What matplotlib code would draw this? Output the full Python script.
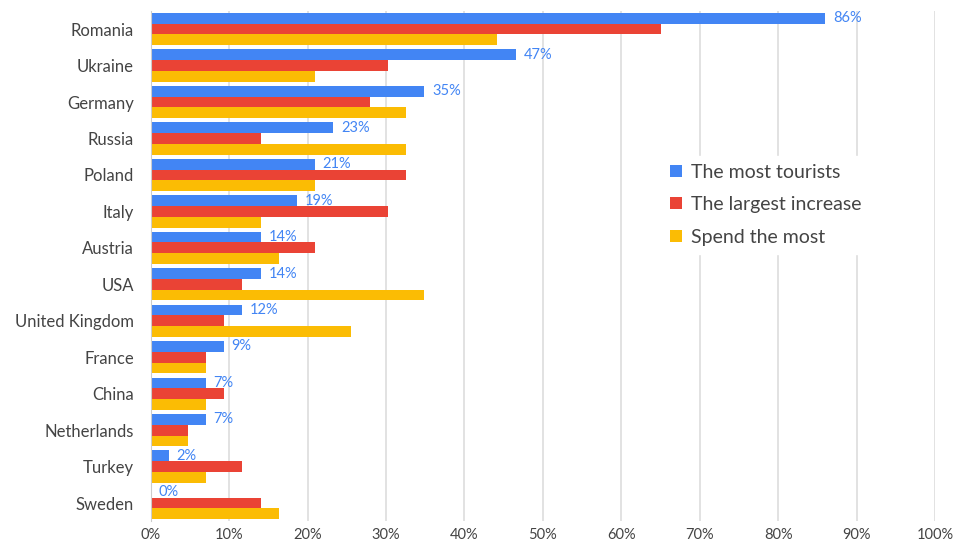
import matplotlib.pyplot as plt
import numpy as np

# dados (percentuais)
paises = ['Romania', 'Ukraine', 'Germany', 'Russia', 'Poland', 'Italy', 'Austria',
          'USA', 'United Kingdom', 'France', 'China', 'Netherlands', 'Turkey', 'Sweden']
most_tourists = [86.0, 46.6, 34.9, 23.3, 20.9, 18.6, 14.0, 14.0, 11.6, 9.3, 7.0, 7.0, 2.3, 0.0]
largest_increase = [65.1, 30.2, 27.9, 14.0, 32.6, 30.2, 20.9, 11.6, 9.3, 7.0, 9.3, 4.7, 11.6, 14.0]
spend_most = [44.2, 20.9, 32.6, 32.6, 20.9, 14.0, 16.3, 34.9, 25.6, 7.0, 7.0, 4.7, 7.0, 16.3]
series_nomes = ['The most tourists', 'The largest increase', 'Spend the most']
cores = ['#4285F4', '#EA4335', '#FBBC04']

plt.rcParams['font.family'] = ['Lato', 'DejaVu Sans']

fig = plt.figure(figsize=(9.54, 5.43), dpi=100)
ax = fig.add_axes([0.158, 0.040, 0.822, 0.940])

y = np.arange(len(paises))
h = 0.295
series = [most_tourists, largest_increase, spend_most]
for i, (vals, nome, cor) in enumerate(zip(series, series_nomes, cores)):
    ax.barh(y + (i - 1) * h, vals, height=h, color=cor, label=nome, zorder=2)

# rótulos só na primeira série
for yi, v in zip(y, most_tourists):
    ax.text(v + 1.0, yi - h, f'{v:.0f}%', color='#4285F4', fontsize=10.5,
            va='center', ha='left', zorder=3)

ax.set_ylim(len(paises) - 0.5, -0.5)
ax.set_xlim(0, 100)
ax.set_yticks(y)
ax.set_yticklabels(paises, fontsize=12, color='#444444')
ax.set_xticks(np.arange(0, 101, 10))
ax.set_xticklabels([f'{t}%' for t in range(0, 101, 10)], fontsize=10.5, color='#444444')
ax.tick_params(axis='x', length=0, pad=5)
ax.tick_params(axis='y', length=0, pad=12)

ax.grid(axis='x', color='#dddddd', linewidth=1.2, zorder=0)
for s in ['top', 'right', 'bottom']:
    ax.spines[s].set_visible(False)
ax.spines['left'].set_color('#cccccc')

leg = ax.legend(loc='upper left', bbox_to_anchor=(0.64, 0.735), frameon=True,
                fontsize=14, handlelength=0.6, handleheight=0.6,
                handletextpad=0.45, labelspacing=0.8, labelcolor='#444444')
leg.get_frame().set_facecolor('white')
leg.get_frame().set_edgecolor('white')
leg.get_frame().set_alpha(1)

fig.savefig('out.png', dpi=100)
